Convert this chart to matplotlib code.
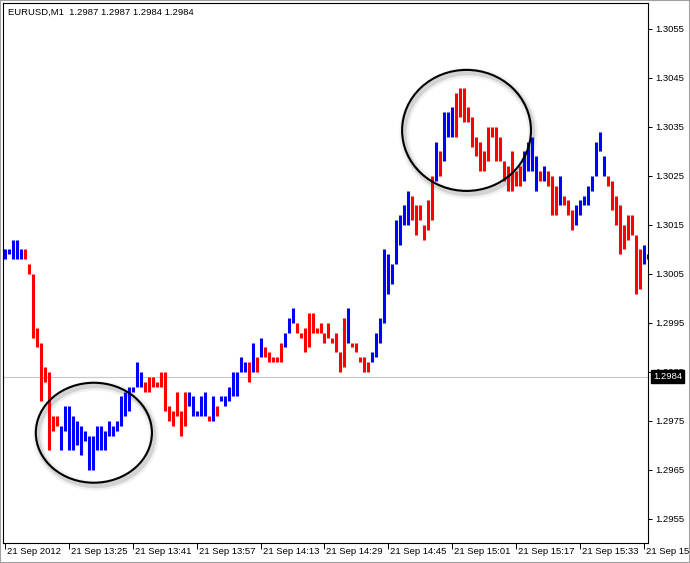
import matplotlib
matplotlib.use("Agg")
import matplotlib.pyplot as plt
from matplotlib import transforms
from matplotlib.patches import Ellipse, Rectangle

plt.rcParams["font.family"] = ["Liberation Sans", "DejaVu Sans"]

CHART_TITLE = "EURUSD,M1  1.2987 1.2987 1.2984 1.2984"
LAST_PRICE = 1.2984

# one-minute bars (high / low / up-bar flag)
highs = [
    1.3010, 1.3010, 1.3012, 1.3012, 1.3010, 1.3010, 1.3007, 1.3005, 1.2994, 1.2991,
    1.2986, 1.2985, 1.2976, 1.2976, 1.2974, 1.2978, 1.2978, 1.2976, 1.2975, 1.2974,
    1.2973, 1.2972, 1.2972, 1.2974, 1.2974, 1.2973, 1.2975, 1.2974, 1.2975, 1.2980,
    1.2981, 1.2982, 1.2982, 1.2987, 1.2985, 1.2983, 1.2984, 1.2984, 1.2983, 1.2985,
    1.2985, 1.2978, 1.2977, 1.2981, 1.2977, 1.2981, 1.2981, 1.2980, 1.2977, 1.2980,
    1.2981, 1.2976, 1.2980, 1.2978, 1.2980, 1.2980, 1.2982, 1.2985, 1.2985, 1.2988,
    1.2987, 1.2987, 1.2991, 1.2988, 1.2992, 1.2990, 1.2989, 1.2988, 1.2988, 1.2991,
    1.2993, 1.2996, 1.2998, 1.2995, 1.2993, 1.2994, 1.2997, 1.2997, 1.2994, 1.2995,
    1.2993, 1.2995, 1.2992, 1.2993, 1.2989, 1.2996, 1.2998, 1.2991, 1.2991, 1.2988,
    1.2988, 1.2987, 1.2989, 1.2993, 1.2996, 1.3010, 1.3009, 1.3007, 1.3016, 1.3017,
    1.3019, 1.3022, 1.3021, 1.3019, 1.3019, 1.3015, 1.3020, 1.3025, 1.3032, 1.3030,
    1.3038, 1.3038, 1.3039, 1.3042, 1.3043, 1.3043, 1.3039, 1.3037, 1.3033, 1.3032,
    1.3030, 1.3035, 1.3035, 1.3035, 1.3033, 1.3028, 1.3027, 1.3030, 1.3026, 1.3027,
    1.3030, 1.3032, 1.3033, 1.3029, 1.3026, 1.3027, 1.3026, 1.3025, 1.3023, 1.3025,
    1.3021, 1.3020, 1.3018, 1.3019, 1.3020, 1.3021, 1.3023, 1.3025, 1.3032, 1.3034,
    1.3029, 1.3025, 1.3024, 1.3021, 1.3019, 1.3015, 1.3017, 1.3017, 1.3013, 1.3010,
    1.3011, 1.3009,
]
lows = [
    1.3008, 1.3009, 1.3008, 1.3008, 1.3008, 1.3008, 1.3005, 1.2992, 1.2990, 1.2979,
    1.2983, 1.2969, 1.2973, 1.2974, 1.2969, 1.2973, 1.2969, 1.2969, 1.2970, 1.2968,
    1.2971, 1.2965, 1.2965, 1.2969, 1.2969, 1.2969, 1.2972, 1.2972, 1.2973, 1.2974,
    1.2976, 1.2977, 1.2981, 1.2982, 1.2982, 1.2981, 1.2981, 1.2982, 1.2982, 1.2982,
    1.2977, 1.2975, 1.2974, 1.2976, 1.2972, 1.2974, 1.2978, 1.2976, 1.2976, 1.2976,
    1.2976, 1.2975, 1.2975, 1.2976, 1.2979, 1.2978, 1.2979, 1.2980, 1.2980, 1.2985,
    1.2985, 1.2983, 1.2985, 1.2985, 1.2988, 1.2988, 1.2987, 1.2987, 1.2987, 1.2987,
    1.2990, 1.2993, 1.2995, 1.2993, 1.2992, 1.2989, 1.2990, 1.2993, 1.2993, 1.2993,
    1.2991, 1.2992, 1.2991, 1.2989, 1.2985, 1.2986, 1.2991, 1.2990, 1.2989, 1.2987,
    1.2985, 1.2985, 1.2987, 1.2988, 1.2991, 1.2995, 1.3001, 1.3003, 1.3007, 1.3011,
    1.3015, 1.3015, 1.3016, 1.3013, 1.3016, 1.3012, 1.3014, 1.3016, 1.3024, 1.3025,
    1.3028, 1.3033, 1.3033, 1.3033, 1.3037, 1.3036, 1.3036, 1.3031, 1.3029, 1.3026,
    1.3026, 1.3028, 1.3033, 1.3028, 1.3028, 1.3024, 1.3022, 1.3022, 1.3023, 1.3023,
    1.3024, 1.3026, 1.3026, 1.3022, 1.3024, 1.3024, 1.3023, 1.3017, 1.3017, 1.3019,
    1.3019, 1.3017, 1.3014, 1.3015, 1.3017, 1.3019, 1.3019, 1.3022, 1.3025, 1.3030,
    1.3025, 1.3023, 1.3018, 1.3015, 1.3009, 1.3010, 1.3012, 1.3013, 1.3001, 1.3002,
    1.3007, 1.3008,
]
up_bar = [
    1, 1, 1, 1, 1, 0, 0, 0, 0, 0, 0, 0, 0, 0, 1, 1, 1, 1, 1, 1,
    1, 1, 1, 1, 1, 1, 1, 1, 1, 1, 1, 1, 1, 1, 1, 0, 0, 0, 0, 0,
    0, 0, 0, 0, 0, 0, 1, 1, 1, 1, 1, 0, 1, 0, 1, 1, 1, 1, 1, 1,
    1, 0, 1, 0, 1, 0, 0, 0, 0, 0, 1, 1, 1, 0, 0, 0, 0, 0, 0, 0,
    0, 0, 0, 0, 0, 0, 1, 0, 0, 0, 0, 0, 1, 1, 1, 1, 1, 1, 1, 1,
    1, 1, 0, 0, 0, 0, 0, 0, 1, 0, 1, 1, 1, 0, 0, 0, 0, 0, 0, 0,
    0, 0, 0, 0, 0, 0, 0, 0, 0, 0, 1, 1, 1, 1, 0, 1, 0, 0, 0, 1,
    0, 0, 0, 1, 1, 1, 1, 1, 1, 1, 1, 0, 0, 0, 0, 0, 0, 0, 0, 0,
    1, 1,
]

price_ticks = [1.2955, 1.2965, 1.2975, 1.2985, 1.2995, 1.3005,
               1.3015, 1.3025, 1.3035, 1.3045, 1.3055]
time_tick_bars = [0, 16, 32, 48, 64, 80, 96, 112, 128, 144, 160]
time_tick_labels = ["21 Sep 2012", "21 Sep 13:25", "21 Sep 13:41", "21 Sep 13:57",
                    "21 Sep 14:13", "21 Sep 14:29", "21 Sep 14:45", "21 Sep 15:01",
                    "21 Sep 15:17", "21 Sep 15:33", "21 Sep 15:49"]

# hand-drawn circles (bar index / price)
circle_centers = [(22.2, 1.29726), (115.6, 1.30343)]
circle_sizes = [(29.1, 0.00204), (32.3, 0.00247)]

fig = plt.figure(figsize=(6.9, 5.63), dpi=100)
ax = fig.add_axes([2.5 / 690, 20 / 563, 645.5 / 690, 540 / 563])

bar_x = list(range(len(highs)))
bar_colors = ["#0000ff" if u else "#ff0000" for u in up_bar]
ax.vlines(bar_x, lows, highs, colors=bar_colors, linewidth=2.2,
          capstyle="butt", zorder=2)

ax.axhline(LAST_PRICE, color="#c8c8c8", linewidth=0.8, zorder=0)

shadow = transforms.offset_copy(ax.transData, fig=fig, x=2, y=-3, units="dots")
for (cx, cy), (w, h) in zip(circle_centers, circle_sizes):
    ax.add_patch(Ellipse((cx, cy), w, h, transform=shadow, fill=False,
                         edgecolor="#909090", linewidth=7, alpha=0.12, zorder=1))
    ax.add_patch(Ellipse((cx, cy), w, h, transform=shadow, fill=False,
                         edgecolor="#909090", linewidth=3.5, alpha=0.3, zorder=1))
    ax.add_patch(Ellipse((cx, cy), w, h, fill=False, edgecolor="black",
                         linewidth=1.5, zorder=3))

ax.set_xlim(-0.7, 161.08)
ax.set_ylim(1.29501, 1.30603)

ax.yaxis.tick_right()
ax.set_yticks(price_ticks)
ax.set_yticklabels([f"{p:.4f}" for p in price_ticks])
ax.tick_params(axis="y", direction="out", length=3, width=0.7, pad=2,
               labelsize=6.8)

ax.set_xticks(time_tick_bars)
ax.set_xticklabels(time_tick_labels, ha="left")
ax.tick_params(axis="x", direction="out", length=4, width=0.7, pad=-1,
               labelsize=6.8)
shift = transforms.ScaledTranslation(2 / 100, 0, fig.dpi_scale_trans)
for label in ax.get_xticklabels():
    label.set_transform(label.get_transform() + shift)

for spine in ax.spines.values():
    spine.set_color("black")
    spine.set_linewidth(0.8)

price_tr = transforms.blended_transform_factory(ax.transAxes, ax.transData)
price_tr = price_tr + transforms.ScaledTranslation(5 / 100, 0, fig.dpi_scale_trans)
ax.text(1.0, LAST_PRICE, f"{LAST_PRICE:.4f}", transform=price_tr, ha="left",
        va="center", color="white", fontsize=6.8, clip_on=False, zorder=5,
        bbox=dict(boxstyle="square,pad=0.2", facecolor="black", edgecolor="black"))

fig.text(8 / 690, 1 - 12 / 563, CHART_TITLE, ha="left", va="center", fontsize=6.8)

fig.patches.append(Rectangle((0, 0), 1, 1, transform=fig.transFigure, fill=False,
                             edgecolor="#a0a0a0", linewidth=1.5))

fig.savefig("out.png", dpi=100)
